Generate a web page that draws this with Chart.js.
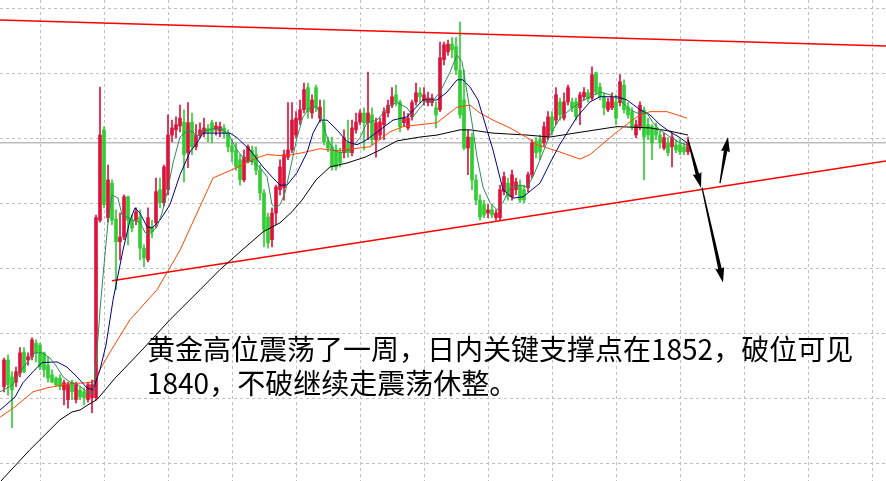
<!doctype html>
<html>

<head>
    <meta charset="utf-8">
    <title>黄金走势</title>
    <script src="https://cdn.jsdelivr.net/npm/chart.js"></script>
    <style>
        body { margin: 0; background: #fff; }
        .quadro { position: relative; width: 886px; height: 481px; }
        .nota {
            position: absolute; left: 147px; top: 331px;
            font-family: "Noto Sans CJK SC", sans-serif; font-size: 28px; line-height: 34px;
            color: #000; white-space: nowrap;
        }
    </style>
</head>

<body>
    <div class="quadro">
        <canvas id="grafico" width="886" height="481"></canvas>
        <div class="nota">黄金高位震荡了一周，日内关键支撑点在1852，破位可见<br>1840，不破继续走震荡休整。</div>
    </div>

    <script>
        // velas (uma por periodo)
        var abertura = [1821.9, 1826.0, 1823.4, 1822.6, 1824.0, 1827.2, 1826.0, 1826.5, 1828.6, 1828.3,
            1827.1, 1825.2, 1823.7, 1823.2, 1823.2, 1821.4, 1819.9, 1822.6, 1819.9, 1821.4,
            1821.1, 1819.9, 1820.2, 1820.2, 1847.5, 1861.4, 1847.9, 1853.2, 1847.7, 1844.2,
            1844.9, 1851.1, 1847.5, 1847.5, 1848.0, 1843.2, 1841.4, 1846.5, 1847.1, 1852.2,
            1850.2, 1852.2, 1860.6, 1861.4, 1862.0, 1862.6, 1857.9, 1862.6, 1858.8, 1860.6,
            1860.9, 1861.6, 1862.5, 1861.4, 1861.2, 1861.7, 1860.9, 1858.9, 1858.3, 1856.8,
            1853.7, 1856.5, 1858.3, 1857.6, 1855.2, 1851.7, 1848.0, 1844.5, 1848.6, 1852.2,
            1852.5, 1857.2, 1858.3, 1860.6, 1862.9, 1864.5, 1867.9, 1864.0, 1867.9, 1863.2,
            1862.5, 1859.6, 1858.8, 1858.3, 1857.9, 1857.9, 1859.4, 1857.9, 1861.4, 1862.6,
            1864.0, 1862.5, 1863.7, 1859.9, 1860.6, 1862.2, 1864.0, 1865.2, 1866.8, 1865.7,
            1862.5, 1861.7, 1863.4, 1865.7, 1867.1, 1866.0, 1865.6, 1865.6, 1864.8, 1864.5,
            1872.2, 1873.4, 1874.6, 1874.2, 1870.6, 1866.0, 1858.6, 1860.3, 1853.7, 1850.6,
            1849.9, 1848.6, 1849.1, 1847.9, 1847.9, 1851.9, 1853.2, 1851.1, 1852.2, 1852.9,
            1852.2, 1852.5, 1854.5, 1859.6, 1859.9, 1859.4, 1860.3, 1863.4, 1862.9, 1865.7,
            1863.2, 1865.7, 1865.7, 1865.7, 1864.8, 1866.5, 1867.1, 1866.3, 1870.2, 1868.0,
            1866.5, 1864.5, 1864.8, 1865.7, 1865.6, 1868.3, 1864.9, 1864.2, 1860.6, 1861.9,
            1864.5, 1862.2, 1861.9, 1861.7, 1860.6, 1858.6, 1859.4, 1858.8, 1859.1, 1859.1,
            1858.8, 1858.0]
        var maxima = [1826.3, 1826.8, 1824.2, 1824.9, 1827.9, 1827.9, 1827.1, 1829.4, 1829.1, 1828.6,
            1827.2, 1826.5, 1824.5, 1823.4, 1823.7, 1822.9, 1822.6, 1822.9, 1822.6, 1821.9,
            1821.7, 1822.6, 1822.9, 1848.3, 1868.0, 1861.9, 1856.0, 1853.7, 1849.1, 1848.6,
            1851.4, 1851.2, 1848.3, 1849.4, 1849.1, 1843.7, 1849.4, 1847.5, 1854.0, 1854.0,
            1856.0, 1863.7, 1862.9, 1863.4, 1865.2, 1864.5, 1865.6, 1864.0, 1862.2, 1862.5,
            1863.2, 1862.2, 1862.9, 1862.6, 1862.6, 1862.2, 1861.4, 1860.0, 1859.4, 1857.6,
            1858.3, 1859.1, 1858.9, 1858.8, 1856.0, 1852.2, 1848.6, 1849.4, 1852.9, 1856.8,
            1858.3, 1865.6, 1865.6, 1864.2, 1866.0, 1868.6, 1868.6, 1866.8, 1868.3, 1866.0,
            1866.0, 1860.3, 1860.3, 1859.1, 1858.6, 1861.4, 1862.9, 1862.9, 1864.0, 1864.5,
            1864.8, 1870.3, 1864.8, 1863.2, 1863.2, 1864.8, 1866.0, 1867.9, 1868.3, 1866.0,
            1864.2, 1863.9, 1866.0, 1868.6, 1867.9, 1867.9, 1867.2, 1866.9, 1865.7, 1874.9,
            1874.9, 1875.2, 1875.6, 1875.6, 1878.0, 1870.6, 1861.4, 1860.9, 1854.5, 1851.4,
            1850.6, 1849.9, 1849.9, 1849.1, 1852.9, 1854.9, 1854.0, 1855.2, 1854.0, 1853.7,
            1852.9, 1854.9, 1859.9, 1860.2, 1860.6, 1862.6, 1864.2, 1864.2, 1867.9, 1866.3,
            1867.1, 1868.3, 1866.3, 1866.3, 1867.2, 1867.9, 1867.6, 1871.1, 1870.3, 1868.6,
            1867.1, 1866.3, 1867.1, 1866.8, 1869.9, 1869.1, 1865.6, 1864.8, 1862.9, 1865.7,
            1864.9, 1863.2, 1862.2, 1862.5, 1861.4, 1860.9, 1860.2, 1860.9, 1859.9, 1859.9,
            1859.4, 1860.3]
        var minima = [1821.1, 1820.6, 1815.6, 1821.9, 1823.4, 1824.0, 1825.2, 1826.0, 1825.7, 1824.5,
            1823.4, 1822.6, 1822.5, 1821.9, 1821.4, 1819.1, 1818.6, 1819.9, 1819.4, 1819.9,
            1819.1, 1819.5, 1817.9, 1819.9, 1847.2, 1849.4, 1847.2, 1846.8, 1836.8, 1841.4,
            1844.5, 1843.7, 1845.7, 1846.8, 1841.4, 1840.3, 1841.1, 1844.8, 1846.3, 1849.4,
            1849.7, 1851.4, 1859.6, 1860.2, 1861.1, 1853.4, 1855.6, 1857.6, 1858.3, 1860.2,
            1860.3, 1859.6, 1859.4, 1860.6, 1860.3, 1860.2, 1858.0, 1856.5, 1855.2, 1852.9,
            1853.4, 1856.3, 1856.0, 1854.5, 1850.6, 1843.4, 1843.2, 1843.4, 1846.8, 1851.4,
            1850.6, 1856.8, 1857.9, 1860.2, 1862.2, 1864.0, 1863.2, 1863.2, 1864.2, 1862.6,
            1859.1, 1858.0, 1855.2, 1855.2, 1855.7, 1857.1, 1857.2, 1857.4, 1860.9, 1862.2,
            1858.3, 1859.9, 1859.1, 1857.2, 1859.9, 1859.9, 1863.4, 1864.8, 1865.1, 1861.1,
            1861.9, 1861.4, 1862.9, 1865.2, 1865.6, 1865.2, 1865.1, 1865.1, 1861.7, 1864.2,
            1871.4, 1872.9, 1872.5, 1869.9, 1863.2, 1858.3, 1854.5, 1852.2, 1849.9, 1847.5,
            1847.9, 1847.9, 1847.9, 1847.5, 1847.5, 1851.4, 1850.6, 1850.6, 1851.4, 1850.2,
            1850.2, 1851.9, 1854.0, 1857.1, 1856.8, 1858.9, 1859.9, 1860.6, 1862.2, 1862.9,
            1862.9, 1865.2, 1864.2, 1862.9, 1862.2, 1866.0, 1865.7, 1866.0, 1866.8, 1866.0,
            1863.7, 1864.2, 1864.5, 1862.2, 1865.1, 1864.0, 1863.2, 1861.4, 1860.2, 1861.4,
            1853.7, 1859.9, 1856.8, 1859.9, 1858.6, 1858.3, 1857.4, 1855.7, 1857.9, 1857.6,
            1857.6, 1857.6]
        var fechamento = [1826.0, 1822.2, 1821.4, 1824.2, 1827.1, 1824.2, 1826.5, 1829.1, 1827.1, 1824.9,
            1824.5, 1823.2, 1822.6, 1822.2, 1821.9, 1822.5, 1822.2, 1821.1, 1822.2, 1820.3,
            1820.2, 1822.2, 1822.2, 1847.9, 1860.6, 1849.9, 1853.7, 1847.5, 1844.2, 1844.9,
            1851.1, 1847.5, 1846.3, 1848.8, 1843.2, 1841.7, 1847.9, 1845.7, 1851.9, 1850.2,
            1855.7, 1860.6, 1861.7, 1862.2, 1863.2, 1857.6, 1862.5, 1858.8, 1860.6, 1861.4,
            1861.7, 1861.1, 1861.1, 1862.0, 1861.9, 1860.9, 1858.8, 1858.0, 1855.7, 1853.7,
            1857.2, 1858.8, 1856.5, 1855.2, 1851.7, 1846.0, 1844.0, 1848.6, 1852.6, 1855.7,
            1857.6, 1858.3, 1862.9, 1863.2, 1864.5, 1867.6, 1864.2, 1866.0, 1864.9, 1864.9,
            1859.6, 1858.6, 1855.7, 1855.7, 1856.3, 1860.2, 1857.9, 1861.7, 1862.6, 1864.0,
            1862.5, 1864.0, 1859.9, 1862.5, 1862.6, 1864.2, 1865.2, 1866.5, 1865.7, 1861.9,
            1863.2, 1863.2, 1865.6, 1867.1, 1866.5, 1866.8, 1866.3, 1866.3, 1863.7, 1872.5,
            1874.5, 1874.6, 1873.7, 1870.6, 1863.7, 1858.6, 1860.3, 1853.7, 1850.6, 1848.0,
            1848.3, 1849.1, 1848.3, 1848.6, 1852.2, 1854.2, 1851.1, 1854.5, 1853.4, 1850.6,
            1850.6, 1854.5, 1859.4, 1857.9, 1858.0, 1861.9, 1863.4, 1861.2, 1866.8, 1863.7,
            1865.7, 1867.9, 1864.8, 1863.4, 1866.8, 1867.2, 1866.2, 1869.9, 1867.2, 1866.5,
            1864.8, 1865.7, 1866.5, 1863.2, 1868.8, 1864.5, 1863.7, 1861.9, 1862.2, 1865.2,
            1860.3, 1860.6, 1859.4, 1860.6, 1859.4, 1860.2, 1857.9, 1860.3, 1858.3, 1858.0,
            1858.0, 1859.4]

        // medias moveis: [posicao da vela, preco]
        var mediaCurta = [[-1, 1821.1], [2.25, 1822.2], [4, 1824.2], [5.75, 1825.6], [7.75, 1827.1], [9.5, 1827.1],
            [11.5, 1826.3], [13.25, 1824.9], [14.75, 1823.4], [16.5, 1822.6], [18.5, 1822.2], [20.75, 1821.1],
            [22.25, 1820.9], [23, 1825.2], [24, 1833.7], [25, 1840.6], [26, 1847.2], [27, 1851.4],
            [28.5, 1850.9], [29.5, 1848.3], [30.75, 1848.0], [32.25, 1847.5], [34, 1847.2], [35.25, 1845.6],
            [36.5, 1845.4], [38.25, 1846.5], [39.5, 1848.6], [40.75, 1851.7], [42.25, 1856.3], [44, 1860.3],
            [45.75, 1861.2], [47.25, 1861.1], [48.25, 1860.3], [49.5, 1861.1], [52.25, 1861.6], [54.75, 1861.4],
            [56, 1860.9], [58.25, 1858.3], [60.25, 1856.8], [62.25, 1856.5], [64, 1855.6], [65.75, 1854.2],
            [67, 1849.9], [68, 1849.4], [69, 1849.9], [70.25, 1851.7], [71.5, 1855.2], [73.25, 1860.2],
            [74.75, 1863.4], [76.5, 1864.9], [78.25, 1864.9], [79.5, 1862.9], [80.75, 1860.3], [82.25, 1858.3],
            [84, 1857.9], [86.5, 1858.3], [89, 1860.2], [90.75, 1862.5], [93.25, 1862.9], [96.5, 1865.2],
            [98.25, 1865.6], [100.75, 1864.8], [102.25, 1863.4], [104, 1864.8], [105.75, 1866.0], [107.25, 1865.9],
            [109, 1867.2], [111.5, 1870.3], [113.25, 1872.9], [114.5, 1871.9], [115.75, 1867.2], [117, 1862.5],
            [118.25, 1857.2], [119.75, 1852.6], [121.5, 1850.2], [123.25, 1849.1], [124.75, 1850.2], [126.5, 1852.5],
            [129, 1852.9], [130.75, 1852.6], [132.25, 1854.2], [134, 1856.8], [136.5, 1860.6], [139, 1863.2],
            [141.5, 1864.5], [144, 1865.6], [146.5, 1866.5], [149, 1867.2], [151.5, 1866.8], [154, 1866.0],
            [156.5, 1864.5], [158.25, 1864.0], [160.75, 1864.0], [162.25, 1862.5], [164, 1861.4], [166.5, 1860.3],
            [169, 1859.4], [170.75, 1859.1]]
        var mediaMedia = [[-1, 1818.3], [2.75, 1820.3], [4.75, 1822.5], [7.25, 1824.2], [9.5, 1825.6], [13.25, 1825.7],
            [15.75, 1824.9], [18.25, 1823.4], [20.75, 1821.7], [22.25, 1821.4], [24, 1824.5], [25.5, 1828.3],
            [27.25, 1835.2], [29.75, 1842.9], [31.5, 1847.5], [32.75, 1849.4], [34, 1848.6], [35.75, 1846.5],
            [37, 1846.3], [39, 1847.5], [41.5, 1849.9], [44, 1854.5], [46.5, 1858.0], [48.25, 1859.4],
            [49.75, 1860.9], [56.5, 1860.9], [58.25, 1860.2], [61.5, 1858.3], [64.75, 1855.7], [67.25, 1854.0],
            [69, 1852.9], [70.75, 1852.9], [73.25, 1854.8], [75.75, 1857.9], [77.25, 1860.9], [79, 1862.9],
            [80.75, 1862.9], [83.25, 1861.4], [85.75, 1859.6], [88.25, 1859.1], [90.75, 1859.9], [94, 1861.4],
            [97.25, 1862.9], [100.75, 1863.4], [104.75, 1866.0], [108.25, 1866.0], [110.75, 1867.2], [113.25, 1869.1],
            [114.75, 1869.1], [116.5, 1868.0], [118.5, 1866.0], [122.25, 1858.3], [124.75, 1852.2], [127.25, 1850.9],
            [129.75, 1851.1], [134, 1853.2], [136.5, 1856.3], [139, 1859.2], [143.25, 1863.4], [146.5, 1865.7],
            [149, 1866.5], [153.25, 1866.5], [155.75, 1866.0], [159, 1864.5], [161.5, 1863.7], [164, 1862.2],
            [166.5, 1861.1], [169, 1860.2], [170.75, 1859.4]]
        var mediaLonga = [[-1, 1817.2], [2.75, 1818.8], [7.25, 1821.1], [10.75, 1821.7], [15.75, 1822.3], [20.75, 1822.5],
            [22.25, 1822.6], [24, 1824.5], [26.5, 1827.2], [31.5, 1832.2], [38.25, 1836.8], [44, 1842.9],
            [49, 1849.6], [52.25, 1854.0], [55.25, 1854.8], [58.25, 1855.6], [63.25, 1857.1], [65.75, 1857.6],
            [70.25, 1857.4], [74.75, 1857.9], [79, 1858.5], [83.25, 1858.2], [87.25, 1858.5], [91.5, 1858.8],
            [96.5, 1861.1], [99.75, 1861.9], [108.25, 1862.5], [113.25, 1864.9], [116.5, 1865.2], [119, 1864.0],
            [122.25, 1862.9], [126.5, 1861.7], [130.75, 1860.2], [133.25, 1859.1], [139, 1858.0], [144, 1856.9],
            [146.5, 1857.6], [153.25, 1861.1], [158.25, 1863.4], [161.5, 1864.2], [165.75, 1864.2], [170.75, 1863.2]]
        var mediaLentissima = [[-1, 1807.2], [0, 1807.9], [6.5, 1812.2], [14, 1816.8], [17, 1818.0], [19, 1818.3],
            [21, 1819.1], [23.25, 1819.9], [27.75, 1823.2], [34, 1827.2], [41.5, 1832.2], [49, 1836.8],
            [54, 1839.9], [59.5, 1842.9], [64.75, 1845.7], [69, 1847.1], [72, 1848.8], [74.5, 1850.6],
            [78, 1853.7], [81.5, 1855.7], [85.75, 1856.3], [90.25, 1857.2], [94, 1858.3], [98.25, 1859.7],
            [104, 1860.3], [108.25, 1860.6], [114, 1861.4], [116.5, 1861.4], [122.25, 1860.9], [130.75, 1860.6],
            [136.5, 1860.3], [144.75, 1861.1], [153.25, 1861.9], [161.5, 1861.7], [166.5, 1861.2], [171, 1860.6]]

        // linhas de tendencia e setas
        var linhaTopo = [[-1, 1878.3], [220.5, 1874.3]]
        var linhaSuporte = [[27, 1838.2], [220.5, 1856.6]]
        var precoAtual = 1859.4
        var setas = [[171, 1859.9, 174.25, 1852.5], [179, 1853.2, 181, 1860.3], [174.5, 1852.5, 179.75, 1837.9]]

        // grade
        var gradeX = [1, 17, 33, 49, 65, 81, 97, 113, 129, 145, 161, 177, 193, 209]
        var gradeY = [1810, 1820, 1830, 1840, 1850, 1860, 1870, 1880]

        var velas = abertura.map((v, i) => i)
        var pavios = velas.map(i => ({ x: i, y: [minima[i], maxima[i]] }))
        var corpos = velas.map(i => ({ x: i, y: [abertura[i], fechamento[i]] }))
        var cores = velas.map(i => fechamento[i] >= abertura[i] ? '#dc143c' : '#32cd32')

        function pontos(lista) {
            return lista.map(p => ({ x: p[0], y: p[1] }))
        }

        function linha(dados, cor, largura) {
            return { type: 'line', data: pontos(dados), borderColor: cor, borderWidth: largura, pointRadius: 0, fill: false, tension: 0 }
        }

        var desenhaSetas = {
            id: 'setas',
            afterDatasetsDraw(chart) {
                var ctx = chart.ctx
                var sx = chart.scales.x
                var sy = chart.scales.y
                setas.forEach(s => {
                    var x1 = sx.getPixelForValue(s[0]), y1 = sy.getPixelForValue(s[1])
                    var x2 = sx.getPixelForValue(s[2]), y2 = sy.getPixelForValue(s[3])
                    var ang = Math.atan2(y2 - y1, x2 - x1)
                    var len = Math.hypot(x2 - x1, y2 - y1)
                    var cab = 14
                    ctx.save()
                    ctx.translate(x1, y1)
                    ctx.rotate(ang)
                    ctx.fillStyle = '#000'
                    ctx.beginPath()
                    ctx.moveTo(0, -0.6)
                    ctx.lineTo(len - cab, -1.8)
                    ctx.lineTo(len - cab - 1, -4.5)
                    ctx.lineTo(len, 0)
                    ctx.lineTo(len - cab - 1, 4.5)
                    ctx.lineTo(len - cab, 1.8)
                    ctx.lineTo(0, 0.6)
                    ctx.closePath()
                    ctx.fill()
                    ctx.restore()
                })
            }
        }

        var eixo = {
            ticks: { display: false },
            grid: { color: '#c0c0c0', lineWidth: 1, drawTicks: false },
            border: { display: false, dash: [3, 3] }
        }

        var grafico = new Chart(document.getElementById('grafico').getContext('2d'), {
            type: 'bar',
            data: {
                datasets: [
                    linha(mediaCurta, '#2e8b57', 1),
                    linha(mediaMedia, '#000080', 1),
                    linha(mediaLonga, '#ff4500', 1),
                    linha(mediaLentissima, '#000000', 1),
                    linha(linhaTopo, '#ff0000', 1.5),
                    linha(linhaSuporte, '#ff0000', 1.5),
                    { data: corpos, backgroundColor: cores, barThickness: 3, minBarLength: 1, grouped: false, borderWidth: 0 },
                    { data: pavios, backgroundColor: cores, barThickness: 1, grouped: false, borderWidth: 0 },
                    linha([[-1, precoAtual], [220.5, precoAtual]], '#bdbdbd', 1.5)
                ]
            },
            options: {
                responsive: false,
                animation: false,
                events: [],
                layout: { padding: 0 },
                plugins: { legend: { display: false }, tooltip: { enabled: false } },
                scales: {
                    x: Object.assign({
                        type: 'linear', min: -1, max: 220.5, offset: false,
                        afterBuildTicks: ax => { ax.ticks = gradeX.map(v => ({ value: v })) }
                    }, eixo),
                    y: Object.assign({
                        type: 'linear', min: 1807.38, max: 1881.38,
                        afterBuildTicks: ax => { ax.ticks = gradeY.map(v => ({ value: v })) }
                    }, eixo)
                }
            },
            plugins: [desenhaSetas]
        })
    </script>
</body>

</html>
